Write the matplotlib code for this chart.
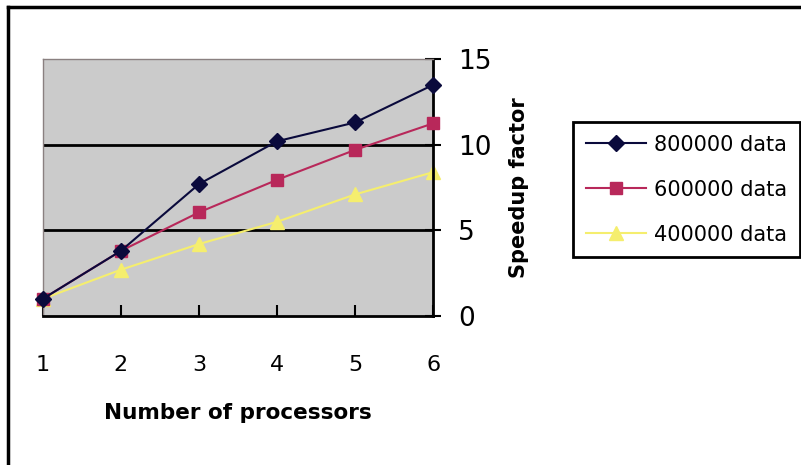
import numpy as np
import matplotlib.pyplot as plt
from matplotlib.lines import Line2D

processors = [1, 2, 3, 4, 5, 6]
speedup_800k = [1.0, 3.8, 7.7, 10.2, 11.3, 13.5]
speedup_600k = [1.0, 3.8, 6.05, 7.95, 9.7, 11.25]
speedup_400k = [1.0, 2.7, 4.2, 5.5, 7.1, 8.4]
labels = ['800000 data', '600000 data', '400000 data']

plt.rcParams['font.family'] = ['DejaVu Sans']

fig = plt.figure(figsize=(8.01, 4.65), dpi=100)
ax = fig.add_axes([0.0533, 0.3204, 0.4878, 0.5527])
ax.set_facecolor('#cbcbcb')

# mrizka jen na 5 a 10
for v in [5, 10]:
    ax.axhline(v, color='black', lw=2, zorder=1)

ax.plot(processors, speedup_800k, color='#0a0a3c', lw=1.5, marker='D', ms=8,
        label=labels[0], zorder=4, clip_on=False)
ax.plot(processors, speedup_600k, color='#b8285a', lw=1.5, marker='s', ms=9,
        label=labels[1], zorder=3, clip_on=False)
ax.plot(processors, speedup_400k, color='#f5ee6e', lw=1.5, marker='^', ms=10,
        label=labels[2], zorder=2, clip_on=False)

ax.set_xlim(1, 6)
ax.set_ylim(0, 15)
ax.set_xticks(processors)
ax.set_yticks([0, 5, 10, 15])

ax.yaxis.tick_right()
ax.yaxis.set_label_position('right')
ax.tick_params(axis='y', direction='inout', length=12, width=1.5, labelsize=19, pad=12)
ax.tick_params(axis='x', direction='in', length=8, width=1.5, labelsize=16, pad=28)

for s in ['left', 'top']:
    ax.spines[s].set_color('#8a8080')
    ax.spines[s].set_linewidth(1)
for s in ['right', 'bottom']:
    ax.spines[s].set_color('black')
    ax.spines[s].set_linewidth(2)

ax.set_xlabel('Number of processors', fontsize=15.5, fontweight='bold', labelpad=20)
ax.set_ylabel('Speedup factor', fontsize=15, fontweight='bold', labelpad=12)

leg = fig.legend(loc='upper left', bbox_to_anchor=(0.7154, 0.7376), borderaxespad=0,
                 fontsize=15, frameon=True, fancybox=False, edgecolor='black',
                 framealpha=1, handlelength=2.9, labelspacing=1.2, borderpad=0.6,
                 handletextpad=0.4)
leg.get_frame().set_linewidth(2)

# ramecek kolem celeho grafu
fig.add_artist(Line2D([0.01, 1.0], [0.985, 0.985], color='black', lw=2.5))
fig.add_artist(Line2D([0.01, 0.01], [0.0, 0.985], color='black', lw=2.5))

fig.savefig('out.png', dpi=100)
